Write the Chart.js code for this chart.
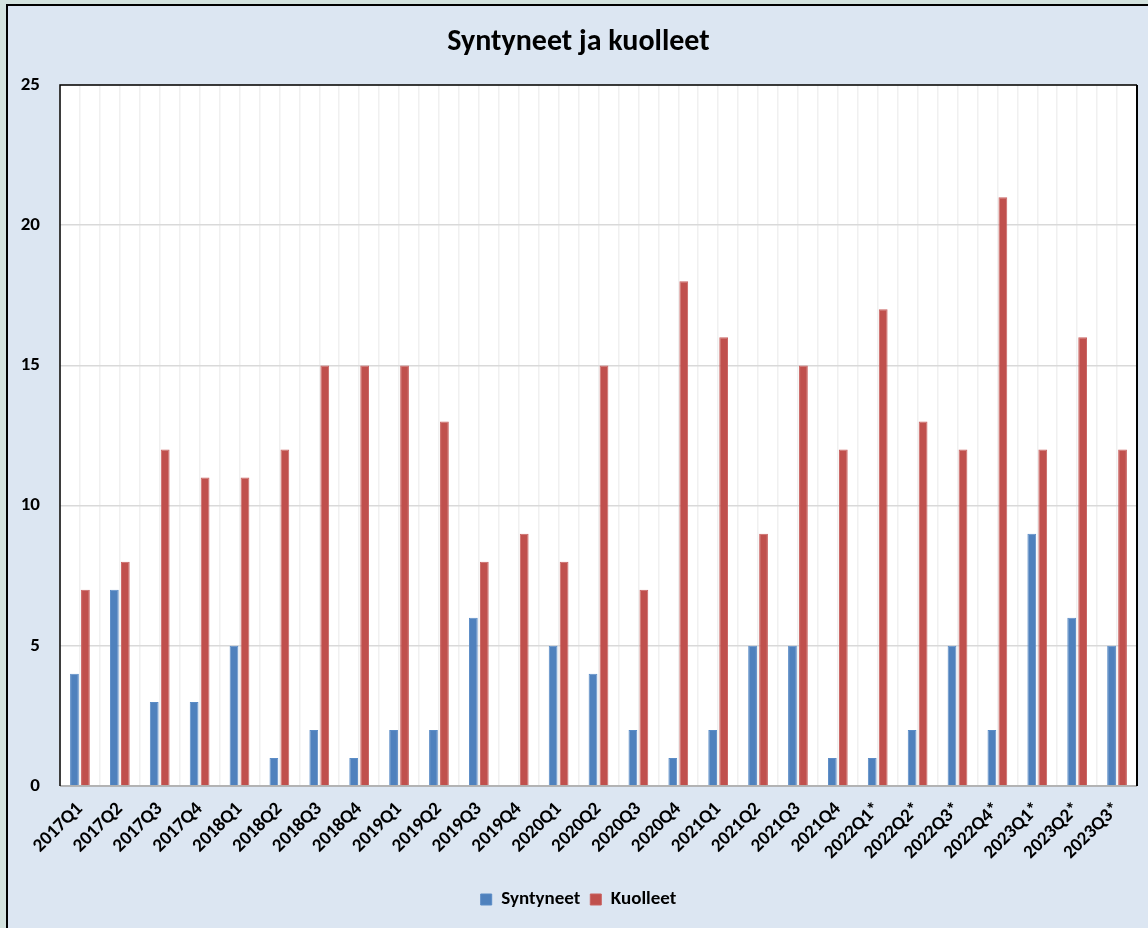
<!DOCTYPE html>
<html><head><meta charset="utf-8">
<script src="https://cdn.jsdelivr.net/npm/chart.js@4.4.0/dist/chart.umd.min.js"></script>
<style>html,body{margin:0;padding:0;background:#d3e2de;overflow:hidden}</style>
</head><body>
<canvas id="c" width="1148" height="928" style="display:block;width:1148px;height:928px"></canvas>
<script>
const categories = ["2017Q1","2017Q2","2017Q3","2017Q4","2018Q1","2018Q2","2018Q3","2018Q4","2019Q1","2019Q2","2019Q3","2019Q4","2020Q1","2020Q2","2020Q3","2020Q4","2021Q1","2021Q2","2021Q3","2021Q4","2022Q1*","2022Q2*","2022Q3*","2022Q4*","2023Q1*","2023Q2*","2023Q3*"];
const syntyneet = [4,7,3,3,5,1,2,1,2,2,6,0,5,4,2,1,2,5,5,1,1,2,5,2,9,6,5];
const kuolleet  = [7,8,12,11,11,12,15,15,15,13,8,9,8,15,7,18,16,9,15,12,17,13,12,21,12,16,12];
const yMin = 0, yMax = 25, yStep = 5;
const titleText = "Syntyneet ja kuolleet";
const seriesNames = ["Syntyneet","Kuolleet"];

const FONT = "Carlito, Lato, 'Open Sans', sans-serif";

const bgPlugin = {
  id: 'bg',
  beforeDraw(chart) {
    const {ctx, chartArea: a, width, height} = chart;
    ctx.save();
    ctx.fillStyle = '#d3e2de';
    ctx.fillRect(0, 0, width, height);
    ctx.fillStyle = '#dce6f2';
    ctx.fillRect(7, 5, width, height);
    ctx.strokeStyle = '#000';
    ctx.lineWidth = 2;
    ctx.strokeRect(7, 5, width + 20, height + 20);
    ctx.fillStyle = '#ffffff';
    ctx.fillRect(a.left, a.top, a.right - a.left, a.bottom - a.top);
    ctx.restore();
  },
  afterDatasetsDraw(chart) {
    const {ctx, chartArea: a} = chart;
    ctx.save();
    ctx.strokeStyle = '#a6a6a6';
    ctx.lineWidth = 1.5;
    ctx.beginPath(); ctx.moveTo(a.left, a.bottom); ctx.lineTo(a.right, a.bottom); ctx.stroke();
    ctx.strokeStyle = '#000';
    ctx.lineWidth = 1.5;
    ctx.beginPath();
    ctx.moveTo(a.left, a.bottom); ctx.lineTo(a.left, a.top); ctx.lineTo(a.right, a.top);
    ctx.stroke();
    ctx.lineWidth = 2;
    ctx.beginPath(); ctx.moveTo(a.right, a.top); ctx.lineTo(a.right, a.bottom); ctx.stroke();
    ctx.restore();
  }
};

new Chart(document.getElementById('c'), {
  type: 'bar',
  data: {
    labels: categories,
    datasets: [
      {label: seriesNames[0], data: syntyneet, backgroundColor: '#4f81bd', borderColor: '#5b8cc6', borderWidth: 1, categoryPercentage: 0.55, barPercentage: 0.8},
      {label: seriesNames[1], data: kuolleet, backgroundColor: '#c0504d', borderColor: '#c96260', borderWidth: 1, categoryPercentage: 0.55, barPercentage: 0.8}
    ]
  },
  options: {
    responsive: false,
    devicePixelRatio: 1,
    animation: false,
    layout: {padding: {left: 20, right: 11, top: 0, bottom: 9}},
    plugins: {
      title: {
        display: true, text: titleText, color: '#000',
        font: {family: FONT, size: 30, weight: 'bold', lineHeight: 1.2},
        padding: {top: 24, bottom: 25}
      },
      legend: {
        position: 'bottom',
        labels: {
          color: '#000', boxWidth: 11, boxHeight: 11, padding: 10,
          font: {family: FONT, size: 19, weight: 'bold'}
        }
      },
      tooltip: {enabled: false}
    },
    scales: {
      x: {
        offset: true,
        grid: {offset: true, color: '#f0f0f0', lineWidth: 1.5, drawTicks: false},
        border: {display: false},
        ticks: {
          color: '#000', autoSkip: false, maxRotation: 45, minRotation: 45, padding: 12,
          font: {family: FONT, size: 19, weight: 'bold'}
        },
        afterFit(s) { s.height = 94; }
      },
      x2: {
        type: 'category',
        position: 'bottom',
        offset: true,
        grid: {offset: false, color: '#f0f0f0', lineWidth: 1.5, drawTicks: false},
        border: {display: false},
        ticks: {display: false},
        afterFit(s) { s.height = 0; }
      },
      y: {
        min: yMin, max: yMax,
        grid: {color: '#d9d9d9', lineWidth: 1.5, drawTicks: false},
        border: {display: false},
        ticks: {
          stepSize: yStep, color: '#000', padding: 20,
          font: {family: FONT, size: 19, weight: 'bold'}
        },
        afterFit(s) { s.width = 40; }
      }
    }
  },
  plugins: [bgPlugin]
});
</script>
</body></html>
